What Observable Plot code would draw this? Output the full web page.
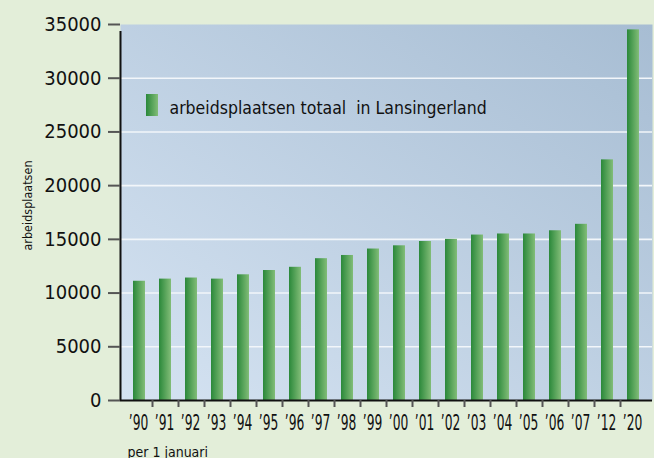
<!DOCTYPE html>
<html>
<head>
<meta charset="utf-8">
<script src="https://cdn.jsdelivr.net/npm/d3@7"></script>
<script src="https://cdn.jsdelivr.net/npm/@observablehq/plot@0.6"></script>
<style>
  html, body { margin: 0; padding: 0; background: #e3eed9; }
  #chart { width: 654px; height: 458px; }
  svg { display: block; }
</style>
</head>
<body>
<div id="chart"></div>
<script>
// ---- data ----
const years = ["’90","’91","’92","’93","’94","’95","’96","’97","’98","’99","’00","’01","’02","’03","’04","’05","’06","’07","’12","’20"];
const jobs = [11100, 11300, 11400, 11300, 11700, 12100, 12400, 13200, 13500, 14100, 14400, 14800, 15000, 15400, 15500, 15500, 15800, 16400, 22400, 34500];
const yTicks = [0, 5000, 10000, 15000, 20000, 25000, 30000, 35000];
const gridValues = [5000, 10000, 15000, 20000, 25000, 30000];
const legendLabel = "arbeidsplaatsen totaal\u00a0 in Lansingerland";
const yTitle = "arbeidsplaatsen";
const xCaption = "per 1 januari";

const data = years.map((y, i) => ({year: y, value: jobs[i]}));

const svg = Plot.plot({
  width: 654,
  height: 458,
  marginLeft: 120,
  marginRight: 2,
  marginTop: 24,
  marginBottom: 58,
  style: {
    fontFamily: "'DejaVu Sans', sans-serif",
    fontStretch: "condensed",
    fontSize: "20px",
    background: "#e3eed9",
    color: "#111"
  },
  x: {domain: years, paddingInner: 0.54, paddingOuter: 0.5, label: null},
  y: {domain: [0, 35000], label: null},
  marks: [
    Plot.frame({fill: "url(#bgGrad)", stroke: "none"}),
    Plot.ruleY(gridValues, {stroke: "#f2f6fa", strokeWidth: 1.6}),
    Plot.barY(data, {x: "year", y: "value", fill: "url(#barGrad)"}),
    Plot.ruleY([0], {stroke: "#111", strokeWidth: 2}),
    Plot.ruleX([years[0]], {y1: 0, y2: 35000, dx: -19, insetBottom: -7, stroke: "#111", strokeWidth: 2}),
    Plot.axisY({ticks: yTicks, tickSize: 12, tickPadding: 7, tickFormat: d => String(d), stroke: "#555", strokeWidth: 2, fill: "#111", fontSize: 20, label: null}),
    Plot.axisX({ticks: years.slice(0, -1), tickSize: 7, tickFormat: () => "", dx: 13, stroke: "#555", strokeWidth: 2, label: null}),
    Plot.axisX({tickSize: 0, tickPadding: 15, dx: -1, fill: "#111", fontSize: 21, label: null, ariaLabel: "x-labels"}),
    Plot.text([yTitle], {frameAnchor: "left", rotate: -90, dx: -93, dy: -7, textAnchor: "middle", fontSize: 12.5, fill: "#111"}),
    Plot.text([xCaption], {frameAnchor: "bottom-left", dx: 7, dy: 56, lineAnchor: "bottom", textAnchor: "start", fontSize: 14, fill: "#111"}),
    Plot.text([legendLabel], {frameAnchor: "top-left", dx: 49, dy: 89, lineAnchor: "bottom", textAnchor: "start", fontSize: 17.5, fill: "#111"})
  ]
});

// gradients
const s = d3.select(svg);
const defs = s.insert("defs", ":first-child");
const bg = defs.append("linearGradient").attr("id", "bgGrad")
  .attr("x1", 0).attr("y1", 1).attr("x2", 1).attr("y2", 0);
bg.append("stop").attr("offset", "0%").attr("stop-color", "#d5e3f2");
bg.append("stop").attr("offset", "100%").attr("stop-color", "#a7bdd3");
const bar = defs.append("linearGradient").attr("id", "barGrad")
  .attr("x1", 0).attr("y1", 0).attr("x2", 1).attr("y2", 0);
bar.append("stop").attr("offset", "0%").attr("stop-color", "#2a883a");
bar.append("stop").attr("offset", "100%").attr("stop-color", "#82bd78");

// condensed x tick labels (narrow the glyphs horizontally)
s.selectAll('g[aria-label="x-labels tick label"] text')
  .attr("transform", function() {
    const t = this.getAttribute("transform") || "";
    return t + " scale(0.65,1)";
  });

// legend swatch
s.append("rect").attr("x", 146).attr("y", 94).attr("width", 12).attr("height", 22)
  .attr("fill", "url(#barGrad)");

document.getElementById("chart").appendChild(svg);
</script>
</body>
</html>
